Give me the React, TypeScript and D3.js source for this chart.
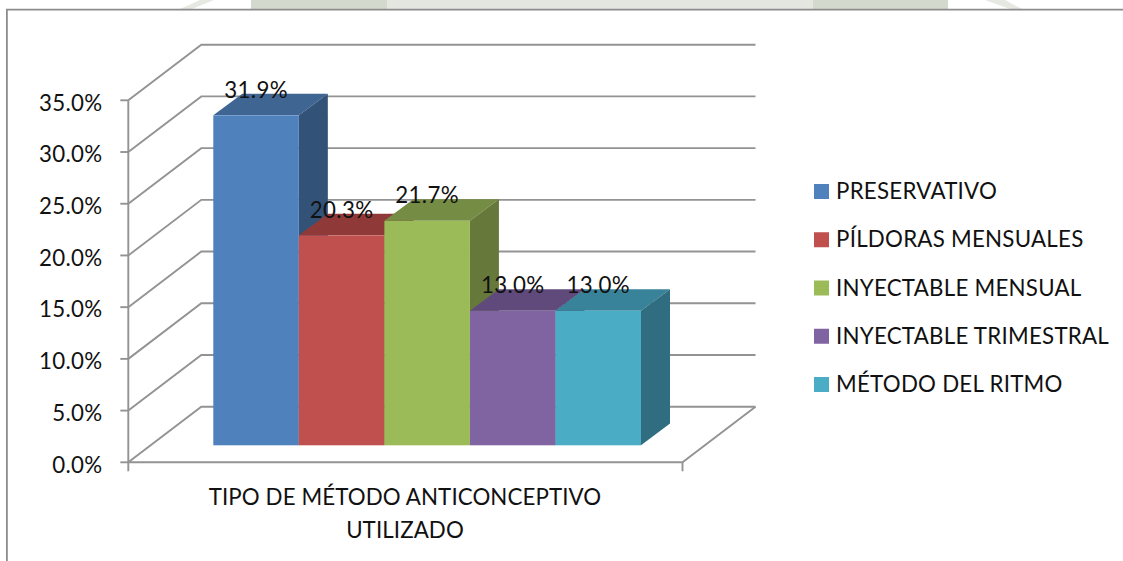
import React from "react";
import * as d3 from "d3";

// Contraceptive method shares, in percent
const methods = ["PRESERVATIVO", "PÍLDORAS MENSUALES", "INYECTABLE MENSUAL", "INYECTABLE TRIMESTRAL", "MÉTODO DEL RITMO"];
const shares = [31.9, 20.3, 21.7, 13.0, 13.0];
const frontColors = ["#4f81bd", "#c0504d", "#9bbb59", "#8064a2", "#4bacc6"];
const topColors = ["#3f6592", "#8f3a38", "#748c43", "#604a7b", "#38839a"];
const sideColors = ["#335278", "#7a302e", "#66793a", "#52406a", "#316d80"];
const axisTicks = [0, 5, 10, 15, 20, 25, 30, 35];
const axisTitleLines = ["TIPO DE MÉTODO ANTICONCEPTIVO", "UTILIZADO"];

const FONT = "Lato, Carlito, sans-serif";
const FONT_SIZE = 22.3;
const LINE = "#939393";

// Front plane of the plot box and the offset of its back wall
const y = d3.scaleLinear().domain([0, 35]).range([462.3, 100.3]);
const wallDx = 73;
const wallDy = -55.6;
const axisLeft = 128.3;
const axisRight = 682.5;

// The bars stand on the floor, set in from the front edge
const barBase = 445.3;
const barDepthX = 29;
const barDepthY = -21.7;
const x = d3.scaleBand<string>().domain(methods).range([213.3, 641]);
const barHeight = (v: number) => y(0) - y(v);

const poly = (pts: [number, number][]) => d3.line()(pts) + "Z";

export default function App() {
  return (
    <svg
      width={1123}
      height={561}
      viewBox="0 0 1123 561"
      style={{ position: "absolute", left: 0, top: 0, background: "#fff" }}
      fontFamily={FONT}
      fontSize={FONT_SIZE}
      fill="#111"
    >
      {/* Faint page seal showing above the chart frame */}
      <g>
        <path d={poly([[180, 9], [200, 0], [214, 0], [192, 9]])} fill="#e6e9e2" />
        <rect x={251} y={0} width={136} height={9} fill="#d3dacd" />
        <rect x={387} y={0} width={426} height={9} fill="#e4e7e0" />
        <rect x={813} y={0} width={135} height={9} fill="#d3dacd" />
        <path d={poly([[985, 0], [1005, 0], [1022, 9], [1010, 9]])} fill="#e6e9e2" />
      </g>

      {/* Chart frame, open at the bottom and on the right */}
      <path d="M6.9,561V9.7H1123" fill="none" stroke="#8c8c8c" strokeWidth={1.8} />

      {/* Walls: diagonal side-wall lines and horizontal back-wall lines */}
      <g fill="none" stroke={LINE} strokeWidth={1.9}>
        {axisTicks.map((t) => (
          <path
            key={t}
            d={
              d3.line()([
                [axisLeft, y(t)],
                [axisLeft + wallDx, y(t) + wallDy],
                [axisRight + wallDx, y(t) + wallDy],
              ]) as string
            }
          />
        ))}
        {/* Right floor edge and front floor edge */}
        <path d={d3.line()([[axisRight + wallDx, y(0) + wallDy], [axisRight, y(0)], [axisLeft, y(0)]]) as string} />
        {/* Vertical axis with its ticks */}
        <path d={`M${axisLeft},${y(35)}V${y(0)}`} />
        {axisTicks.map((t) => (
          <path key={t} d={`M${axisLeft - 8},${y(t)}H${axisLeft}`} />
        ))}
        {/* Category axis ticks */}
        <path d={`M${axisLeft},${y(0)}V${y(0) + 9}M${axisRight},${y(0)}V${y(0) + 9}`} />
      </g>

      {/* Bars drawn left to right so each one covers its neighbour's side */}
      {methods.map((m, i) => {
        const left = x(m) as number;
        const right = left + x.bandwidth();
        const top = barBase - barHeight(shares[i]);
        return (
          <g key={m}>
            <path
              d={poly([[left, top], [left + barDepthX, top + barDepthY], [right + barDepthX, top + barDepthY], [right, top]])}
              fill={topColors[i]}
            />
            <path
              d={poly([[right, top], [right + barDepthX, top + barDepthY], [right + barDepthX, barBase + barDepthY], [right, barBase]])}
              fill={sideColors[i]}
            />
            <rect x={left} y={top} width={x.bandwidth()} height={barBase - top} fill={frontColors[i]} />
          </g>
        );
      })}

      {/* Value labels */}
      {methods.map((m, i) => (
        <text
          key={m}
          x={(x(m) as number) + x.bandwidth() / 2}
          y={barBase - barHeight(shares[i]) - 17.7}
          textAnchor="middle"
          letterSpacing={0.33}
        >
          {shares[i].toFixed(1)}%
        </text>
      ))}

      {/* Vertical axis labels */}
      {axisTicks.map((t) => (
        <text key={t} x={102.5} y={y(t) + 10.3} textAnchor="end" letterSpacing={0.33}>
          {t.toFixed(1)}%
        </text>
      ))}

      {/* Category axis title */}
      {axisTitleLines.map((line, i) => (
        <text key={line} x={405} y={505 + i * 32.7} textAnchor="middle" letterSpacing={0.1}>
          {line}
        </text>
      ))}

      {/* Legend */}
      {methods.map((m, i) => {
        const rowY = d3.scaleLinear().domain([0, 4]).range([184, 377])(i);
        return (
          <g key={m}>
            <rect x={814} y={rowY} width={15} height={15} fill={frontColors[i]} />
            <text x={836} y={rowY + 15} letterSpacing={0.25}>
              {m}
            </text>
          </g>
        );
      })}
    </svg>
  );
}
